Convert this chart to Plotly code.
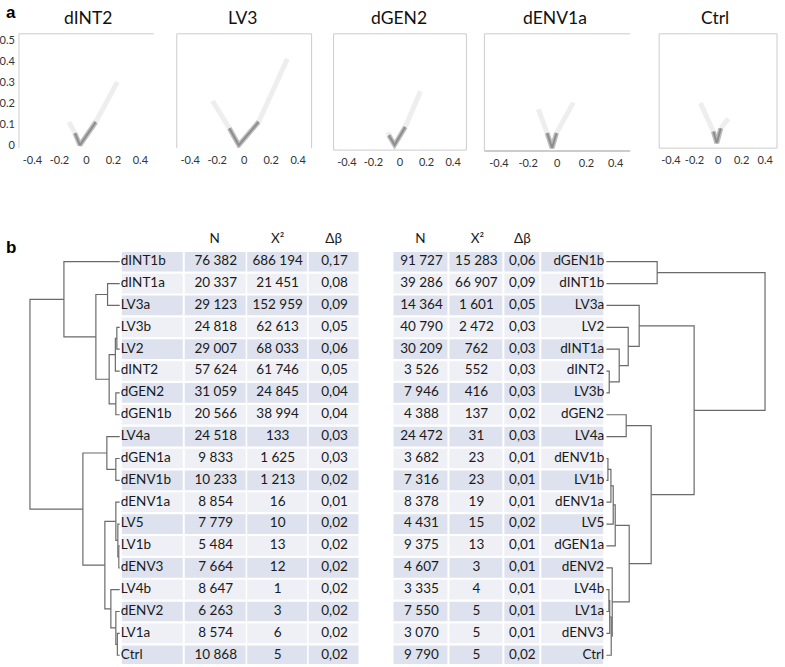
import plotly.graph_objects as go

W, H = 785, 667
FONT = "Lato"

# ---------------- panel a data ----------------
panel_titles = ["dINT2", "LV3", "dGEN2", "dENV1a", "Ctrl"]
vertex_x = [-0.048, -0.040, -0.041, -0.036, -0.011]
vertex_y = [0.0, 0.0, 0.01, 0.0, 0.01]
right_dense_x = [0.07, 0.107, 0.04, -0.005, 0.023]
right_dense_y = [0.11, 0.11, 0.094, 0.07, 0.08]
right_tip_x = [0.23, 0.32, 0.154, 0.11, 0.087]
right_tip_y = [0.30, 0.41, 0.26, 0.21, 0.125]
left_dense_x = [-0.085, -0.11, -0.084, -0.07, -0.04]
left_dense_y = [0.057, 0.08, 0.055, 0.07, 0.065]
left_tip_x = [-0.13, -0.235, -0.09, -0.13, -0.15]
left_tip_y = [0.11, 0.21, 0.07, 0.18, 0.20]
x_tick_vals = [-0.4, -0.2, 0, 0.2, 0.4]
x_tick_text = ["-0.4", "-0.2", "0", "0.2", "0.4"]
y_tick_vals = [0, 0.1, 0.2, 0.3, 0.4, 0.5]
y_tick_text = ["0", "0.1", "0.2", "0.3", "0.4", "0.5"]

# ---------------- panel b data ----------------
left_names = ["dINT1b", "dINT1a", "LV3a", "LV3b", "LV2", "dINT2", "dGEN2", "dGEN1b", "LV4a",
              "dGEN1a", "dENV1b", "dENV1a", "LV5", "LV1b", "dENV3", "LV4b", "dENV2", "LV1a", "Ctrl"]
left_N = [76382, 20337, 29123, 24818, 29007, 57624, 31059, 20566, 24518,
          9833, 10233, 8854, 7779, 5484, 7664, 8647, 6263, 8574, 10868]
left_X2 = [686194, 21451, 152959, 62613, 68033, 61746, 24845, 38994, 133,
           1625, 1213, 16, 10, 13, 12, 1, 3, 6, 5]
left_db = [0.17, 0.08, 0.09, 0.05, 0.06, 0.05, 0.04, 0.04, 0.03,
           0.03, 0.02, 0.01, 0.02, 0.02, 0.02, 0.02, 0.02, 0.02, 0.02]

right_names = ["dGEN1b", "dINT1b", "LV3a", "LV2", "dINT1a", "dINT2", "LV3b", "dGEN2", "LV4a",
               "dENV1b", "LV1b", "dENV1a", "LV5", "dGEN1a", "dENV2", "LV4b", "LV1a", "dENV3", "Ctrl"]
right_N = [91727, 39286, 14364, 40790, 30209, 3526, 7946, 4388, 24472,
           3682, 7316, 8378, 4431, 9375, 4607, 3335, 7550, 3070, 9790]
right_X2 = [15283, 66907, 1601, 2472, 762, 552, 416, 137, 31,
            23, 23, 19, 15, 13, 3, 4, 5, 5, 5]
right_db = [0.06, 0.09, 0.05, 0.03, 0.03, 0.03, 0.03, 0.02, 0.03,
            0.01, 0.01, 0.01, 0.02, 0.01, 0.01, 0.01, 0.01, 0.01, 0.02]

header_labels = ["N", "X²", "Δβ"]

# dendrograms: (child, child, merge height)
l_top_mid = ((("LV3b", "LV2", 3), "dINT2", 4.5), ("dGEN2", "dGEN1b", 4), 10.7)
l_top = ("dINT1b", (("dINT1a", "LV3a", 12.3), l_top_mid, 24), 56)
l_subA = ("dENV1a", ("LV5", ("LV1b", "dENV3", 1), 2), 4)
l_subB = ("LV4b", ("dENV2", ("LV1a", "Ctrl", 2.5), 4), 9)
l_bot = (("LV4a", ("dGEN1a", "dENV1b", 4), 13), (l_subA, l_subB, 15), 37)
left_tree = (l_top, l_bot, 90)

r_upper5 = (((("dENV1b", "LV1b", 1.7), "dENV1a", 4.7), "LV5", 7), "dGEN1a", 9)
r_lower5 = ("dENV2", ((("LV4b", "LV1a", 2.7), "dENV3", 3.5), "Ctrl", 5), 6)
r_upper_grp = ("LV3a", ("LV2", ("dINT1a", ("dINT2", "LV3b", 3), 13), 22), 33)
r_lower_grp = (("dGEN2", "LV4a", 20), (r_upper5, r_lower5, 23), 45)
right_tree = (("dGEN1b", "dINT1b", 51), (r_upper_grp, r_lower_grp, 88), 159)


def fmt_int(v):
    return f"{v:,}".replace(",", " ")


def fmt_dec(v):
    return f"{v:.2f}".replace(".", ",")


def dendro_paths(tree, names):
    pos = {nm: i for i, nm in enumerate(names)}
    xs, ys = [], []

    def walk(node):
        if isinstance(node, str):
            return pos[node], 0.0
        a, b, h = node
        ya, ha = walk(a)
        yb, hb = walk(b)
        xs.extend([ha, h, h, hb, None])
        ys.extend([ya, ya, yb, yb, None])
        return (ya + yb) / 2, h

    walk(tree)
    return xs, ys


def pxx(p):
    return p / W


def pxy(p):
    return 1 - p / H


fig = go.Figure()
layout = {}

# ---------------- panel a ----------------
boxes = [(18, 153, 33, 148), (176, 311, 33, 148), (333, 466, 33, 150),
         (484, 630, 33, 151), (659, 777, 33, 148)]
borders = [("l", "t"), ("l", "t", "r"), ("l", "t", "r", "b"), ("l", "t", "b"), ("l", "t", "r", "b")]
title_x = [87, 242, 399, 555, 715]
shapes = []
annotations = []
for i in range(5):
    k = i + 1
    sfx = "" if k == 1 else str(k)
    xa, ya = f"x{sfx}", f"y{sfx}"
    x0, x1, y0, y1 = boxes[i]
    layout[f"xaxis{sfx}"] = dict(domain=[pxx(x0), pxx(x1)], range=[-0.5, 0.5], anchor=ya,
                                 showgrid=False, zeroline=False, showline=False, ticks="",
                                 tickvals=x_tick_vals, ticktext=x_tick_text,
                                 tickfont=dict(family=FONT, size=11, color="#333"),
                                 ticklabelstandoff=4, fixedrange=True)
    layout[f"yaxis{sfx}"] = dict(domain=[pxy(y1), pxy(y0)], range=[-0.014, 0.528], anchor=xa,
                                 showgrid=False, zeroline=False, showline=False, ticks="",
                                 tickvals=y_tick_vals, ticktext=y_tick_text,
                                 showticklabels=(i == 0),
                                 tickfont=dict(family=FONT, size=11, color="#333"),
                                 ticklabelstandoff=3, fixedrange=True)
    for side in borders[i]:
        wdt = 2 if (i == 3 and side == "b") else 1
        if side == "l":
            c = dict(x0=0, x1=0, y0=0, y1=1)
        elif side == "r":
            c = dict(x0=1, x1=1, y0=0, y1=1)
        elif side == "t":
            c = dict(x0=0, x1=1, y0=1, y1=1)
        else:
            c = dict(x0=0, x1=1, y0=0, y1=0)
        shapes.append(dict(type="line", xref=f"{xa} domain", yref=f"{ya} domain",
                           line=dict(color="#cccccc", width=wdt), **c))
    # faint outer parts of the V
    fig.add_trace(go.Scatter(
        x=[left_tip_x[i], left_dense_x[i], None, right_dense_x[i], right_tip_x[i]],
        y=[left_tip_y[i], left_dense_y[i], None, right_dense_y[i], right_tip_y[i]],
        mode="lines", line=dict(color="rgba(150,150,150,0.16)", width=5),
        xaxis=xa, yaxis=ya, hoverinfo="skip", showlegend=False))
    # dense inner parts of the V
    fig.add_trace(go.Scatter(
        x=[left_dense_x[i], vertex_x[i], right_dense_x[i]],
        y=[left_dense_y[i], vertex_y[i], right_dense_y[i]],
        mode="lines", line=dict(color="rgba(110,110,110,0.45)", width=5),
        xaxis=xa, yaxis=ya, hoverinfo="skip", showlegend=False))
    fig.add_trace(go.Scatter(
        x=[left_dense_x[i], vertex_x[i], right_dense_x[i]],
        y=[left_dense_y[i], vertex_y[i], right_dense_y[i]],
        mode="lines", line=dict(color="rgba(100,100,100,0.55)", width=2),
        xaxis=xa, yaxis=ya, hoverinfo="skip", showlegend=False))
    annotations.append(dict(text=panel_titles[i], x=pxx(title_x[i]), y=pxy(17), xref="paper",
                            yref="paper", showarrow=False, xanchor="center", yanchor="middle",
                            font=dict(family=FONT, size=17.5, color="#111")))

annotations.append(dict(text="<b>a</b>", x=pxx(3), y=pxy(12), xref="paper", yref="paper",
                        showarrow=False, xanchor="left", yanchor="middle",
                        font=dict(family="Liberation Sans", size=17, color="#000")))
annotations.append(dict(text="<b>b</b>", x=pxx(3), y=pxy(248), xref="paper", yref="paper",
                        showarrow=False, xanchor="left", yanchor="middle",
                        font=dict(family="Liberation Sans", size=17, color="#000")))

# ---------------- panel b ----------------
n = len(left_names)
rows = list(range(n))
row_colors = ["#dde2ee" if r % 2 == 0 else "#eef0f6" for r in rows]

# column layout (pixels): (left, right)
left_cols = [(121, 182), (184, 245), (246.5, 306.5), (308, 358)]
right_cols = [(393, 447), (449, 502), (504, 539), (541, 603)]

for (c0, c1) in left_cols + right_cols:
    fig.add_trace(go.Bar(orientation="h", y=rows, x=[c1 - c0] * n, base=[c0] * n,
                         width=0.9, marker=dict(color=row_colors, line=dict(width=0)),
                         xaxis="x7", yaxis="y6", hoverinfo="skip", showlegend=False))

txt_font = dict(family=FONT, size=13.5, color="#1a1a1a")


def text_trace(xpos, labels, position, rows_=rows):
    return go.Scatter(x=[xpos] * len(labels), y=rows_, text=labels, mode="text",
                      textposition=position, textfont=txt_font, xaxis="x7", yaxis="y6",
                      hoverinfo="skip", showlegend=False)


fig.add_trace(text_trace(120, left_names, "middle right"))
fig.add_trace(text_trace(215, [fmt_int(v) for v in left_N], "middle center"))
fig.add_trace(text_trace(277, [fmt_int(v) for v in left_X2], "middle center"))
fig.add_trace(text_trace(334, [fmt_dec(v) for v in left_db], "middle center"))
fig.add_trace(text_trace(421, [fmt_int(v) for v in right_N], "middle center"))
fig.add_trace(text_trace(476, [fmt_int(v) for v in right_X2], "middle center"))
fig.add_trace(text_trace(522, [fmt_dec(v) for v in right_db], "middle center"))
fig.add_trace(text_trace(604, right_names, "middle left"))

# header
fig.add_trace(go.Scatter(x=[214, 277, 333, 420, 477, 522], y=[-1] * 6,
                         text=header_labels * 2, mode="text", textposition="middle center",
                         textfont=txt_font, xaxis="x7", yaxis="y6", hoverinfo="skip",
                         showlegend=False))

# dendrograms
lx, ly = dendro_paths(left_tree, left_names)
fig.add_trace(go.Scatter(x=lx, y=ly, mode="lines", line=dict(color="#6a6a6a", width=1.2),
                         xaxis="x6", yaxis="y6", hoverinfo="skip", showlegend=False))
rx, ry = dendro_paths(right_tree, right_names)
fig.add_trace(go.Scatter(x=rx, y=ry, mode="lines", line=dict(color="#6a6a6a", width=1.2),
                         xaxis="x8", yaxis="y6", hoverinfo="skip", showlegend=False))

row0_px = 262.3
row_h = 22.0
y_top = -1.5
y_bot = 18.4
top_px = row0_px + row_h * y_top
hidden = dict(showgrid=False, zeroline=False, showline=False, showticklabels=False,
              ticks="", fixedrange=True, visible=False)
layout["yaxis6"] = dict(domain=[0, pxy(top_px)], range=[y_bot, y_top], anchor="x7", **hidden)
layout["xaxis6"] = dict(domain=[0, pxx(119)], range=[119, 0], anchor="y6", **hidden)
layout["xaxis7"] = dict(domain=[0, 1], range=[0, W], anchor="y6", **hidden)
layout["xaxis8"] = dict(domain=[pxx(606), 1], range=[0, W - 606], anchor="y6", **hidden)

fig.update_layout(
    width=W, height=H, margin=dict(l=0, r=0, t=0, b=0),
    paper_bgcolor="white", plot_bgcolor="rgba(0,0,0,0)",
    barmode="overlay", showlegend=False,
    shapes=shapes, annotations=annotations,
    **layout)

fig.write_html("out.html", config={"displayModeBar": False},
               post_script="document.body.style.margin='0px';document.body.style.overflow='hidden';")
